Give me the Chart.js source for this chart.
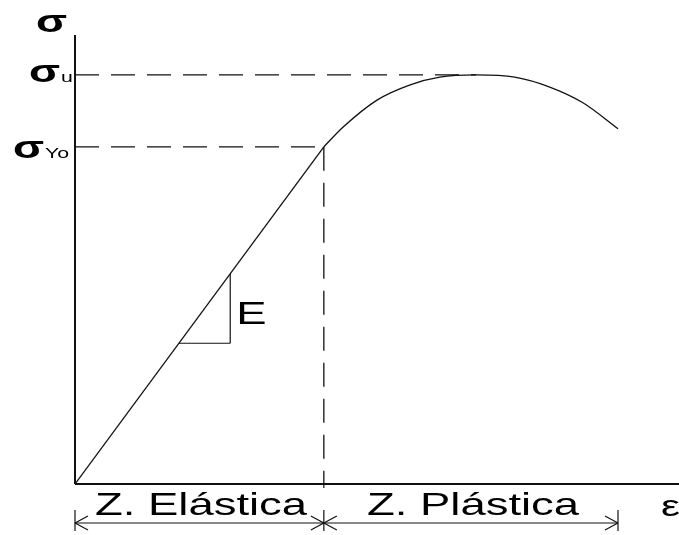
<!DOCTYPE html>
<html>
<head>
<meta charset="utf-8">
<script src="https://cdn.jsdelivr.net/npm/chart.js@4"></script>
<style>
  html, body { margin: 0; padding: 0; background: #fff; }
  canvas { display: block; }
</style>
</head>
<body>
<canvas id="stressStrain" width="679" height="535"></canvas>
<script>
// stress–strain curve, arbitrary units (0..100 on both axes)
const elasticStrain = [0, 41.2];
const elasticStress = [0, 75.1];
const plasticStrain = [41.2, 44.4, 50.0, 55.5, 60.4, 66.4, 72.8, 78.6, 84.1, 89.9];
const plasticStress = [75.1, 79.5, 85.5, 88.9, 90.6, 91.1, 90.6, 88.4, 84.9, 79.1];

const yieldStrain = 41.2;
const yieldStress = 75.1;
const ultimateStrain = 66.4;
const ultimateStress = 91.1;
const slopeStrains = [17.2, 25.7];
const zoneBounds = [0, 41.2, 89.9];
const zoneLabels = ['Z. Elástica', 'Z. Plástica'];

const FONT = '"Liberation Sans", Arial, sans-serif';
const STRETCH = 1.42;
const INK = '#111';

const toPoints = (xs, ys) => xs.map((x, i) => ({ x: x, y: ys[i] }));

function stretchedText(ctx, text, x, y, size, weight) {
    ctx.save();
    ctx.translate(x, y);
    ctx.scale(STRETCH, 1);
    ctx.font = (weight || 'normal') + ' ' + size + 'px ' + FONT;
    ctx.textBaseline = 'alphabetic';
    ctx.textAlign = 'left';
    ctx.fillText(text, 0, 0);
    const w = ctx.measureText(text).width * STRETCH;
    ctx.restore();
    return w;
}

function line(ctx, x1, y1, x2, y2) {
    ctx.beginPath();
    ctx.moveTo(x1, y1);
    ctx.lineTo(x2, y2);
    ctx.stroke();
}

const diagramPlugin = {
    id: 'diagram',
    beforeDatasetsDraw(chart) {
        const { ctx, chartArea, scales } = chart;
        const xs = scales.x, ys = scales.y;
        ctx.save();
        ctx.strokeStyle = INK;

        // guide lines at yield and ultimate stress
        ctx.lineWidth = 1.3;
        ctx.setLineDash([24, 12]);
        const xY = xs.getPixelForValue(yieldStrain);
        const yY = ys.getPixelForValue(yieldStress);
        const yU = ys.getPixelForValue(ultimateStress);
        line(ctx, chartArea.left, yU, xs.getPixelForValue(ultimateStrain), yU);
        line(ctx, chartArea.left, yY, xY, yY);
        line(ctx, xY, yY, xY, chartArea.bottom);
        ctx.setLineDash([]);

        // axes
        ctx.lineWidth = 2;
        line(ctx, chartArea.left, chartArea.top, chartArea.left, chartArea.bottom);
        line(ctx, chartArea.left, chartArea.bottom, chartArea.right, chartArea.bottom);
        ctx.restore();
    },
    afterDatasetsDraw(chart) {
        const { ctx, chartArea, scales } = chart;
        const xs = scales.x, ys = scales.y;
        ctx.save();
        ctx.strokeStyle = INK;
        ctx.fillStyle = '#000';
        ctx.lineWidth = 1.2;

        // slope triangle on the elastic line
        const k = elasticStress[1] / elasticStrain[1];
        const ax = xs.getPixelForValue(slopeStrains[0]);
        const bx = xs.getPixelForValue(slopeStrains[1]);
        const ay = ys.getPixelForValue(slopeStrains[0] * k);
        const by = ys.getPixelForValue(slopeStrains[1] * k);
        line(ctx, ax, ay, bx, ay);
        line(ctx, bx, ay, bx, by);
        stretchedText(ctx, 'E', bx + 6, (ay + by) / 2 + 16, 32);

        // stress labels
        stretchedText(ctx, 'σ', 36, 32, 32, 'bold');
        const yU = ys.getPixelForValue(ultimateStress);
        const yY = ys.getPixelForValue(yieldStress);
        let w = stretchedText(ctx, 'σ', 29, yU + 7, 32, 'bold');
        stretchedText(ctx, 'u', 29 + w + 1, yU + 7, 15);
        w = stretchedText(ctx, 'σ', 13, yY + 11, 32, 'bold');
        stretchedText(ctx, 'Yo', 13 + w + 1, yY + 11, 15);

        // strain label
        stretchedText(ctx, 'ε', 661, 516, 30);

        // zone dimension line
        const dimY = chartArea.bottom + 39;
        const px = zoneBounds.map(v => xs.getPixelForValue(v));
        const first = px[0], last = px[px.length - 1];
        line(ctx, first, dimY, last, dimY);
        px.forEach((x, i) => {
            line(ctx, x, dimY - 13, x, dimY + 8);
            if (i < px.length - 1) {
                line(ctx, x, dimY, x + 13, dimY - 7);
                line(ctx, x, dimY, x + 13, dimY + 7);
            }
            if (i > 0) {
                line(ctx, x, dimY, x - 13, dimY - 7);
                line(ctx, x, dimY, x - 13, dimY + 7);
            }
        });
        // the yield divider runs up to the axis
        line(ctx, px[1], chartArea.bottom, px[1], chartArea.bottom + 4);

        const leftStarts = [95, 367];
        zoneLabels.forEach((label, i) => {
            stretchedText(ctx, label, leftStarts[i], chartArea.bottom + 31, 32);
        });
        ctx.restore();
    }
};

new Chart(document.getElementById('stressStrain').getContext('2d'), {
    type: 'scatter',
    data: {
        datasets: [
            {
                data: toPoints(elasticStrain, elasticStress),
                showLine: true,
                borderColor: INK,
                borderWidth: 1.3,
                pointRadius: 0,
                tension: 0
            },
            {
                data: toPoints(plasticStrain, plasticStress),
                showLine: true,
                borderColor: INK,
                borderWidth: 1.3,
                pointRadius: 0,
                cubicInterpolationMode: 'monotone'
            }
        ]
    },
    options: {
        responsive: false,
        animation: false,
        layout: { padding: { left: 75, right: 0, top: 35, bottom: 51 } },
        scales: {
            x: { type: 'linear', min: 0, max: 100, display: false },
            y: { type: 'linear', min: 0, max: 100, display: false }
        },
        plugins: {
            legend: { display: false },
            tooltip: { enabled: false }
        }
    },
    plugins: [diagramPlugin]
});
</script>
</body>
</html>
